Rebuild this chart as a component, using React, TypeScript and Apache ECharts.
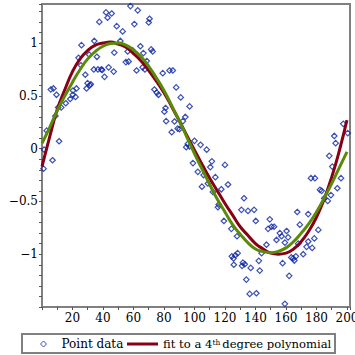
import React, { useEffect, useRef } from 'react';
import * as echarts from 'echarts';

// Scatter points
const pointX = [
  1.0, 1.4, 3.1, 5.8, 6.9, 7.5, 8.8, 9.5, 10.6, 11.2, 12.6, 15.6, 18.5, 20.2, 20.3, 22.0, 22.6, 24.0, 25.5, 25.9,
  28.4, 29.2, 29.9, 31.0, 31.3, 32.0, 34.0, 34.3, 36.0, 36.7, 37.6, 38.9, 39.5, 41.0, 42.0, 43.0, 43.7, 45.7, 47.0, 47.4,
  49.0, 51.4, 52.9, 55.0, 56.2, 56.8, 58.0, 59.5, 60.6, 62.0, 62.8, 64.5, 66.0, 66.5, 67.5, 68.7, 70.0, 70.5, 71.6, 72.6,
  73.7, 75.3, 76.4, 79.2, 80.3, 81.0, 81.4, 83.6, 85.1, 85.8, 86.9, 88.0, 89.0, 90.2, 91.0, 92.4, 94.0, 94.6, 95.6, 96.8,
  96.8, 99.0, 100.0, 102.2, 104.0, 104.9, 106.0, 108.0, 108.8, 110.4, 111.4, 112.1, 113.7, 115.4, 115.9, 117.6, 119.3, 120.0, 122.0, 124.2,
  124.5, 125.6, 125.8, 126.8, 127.9, 128.3, 130.8, 131.2, 131.8, 132.5, 133.0, 134.0, 135.1, 136.2, 136.9, 139.1, 140.2, 140.6, 142.2, 142.8,
  144.0, 147.2, 148.3, 149.4, 150.5, 152.2, 153.8, 156.0, 157.1, 157.8, 159.3, 159.3, 160.4, 161.4, 162.1, 163.5, 164.7, 165.5, 166.5, 167.4,
  168.0, 169.1, 171.3, 173.5, 174.6, 174.6, 176.4, 177.2, 178.6, 179.0, 181.2, 182.3, 183.4, 185.1, 187.4, 188.4, 189.5, 190.4, 191.7, 192.6,
  193.7, 196.1, 197.6, 200.5
];
const pointY = [
  -0.19, -0.01, 0.17, 0.56, -0.11, 0.57, 0.31, 0.51, 0.39, 0.07, 0.39, 0.43, 0.47, 0.51, 0.55, 0.49, 0.57, 0.86, 0.79, 0.98,
  0.70, 0.57, 0.62, 0.89, 0.60, 0.61, 0.75, 1.02, 0.87, 0.75, 1.20, 0.75, 0.745, 0.68, 1.29, 1.24, 0.77, 1.28, 0.73, 0.91,
  1.16, 1.02, 1.11, 0.82, 0.92, 0.825, 1.35, 0.93, 1.18, 0.74, 1.31, 0.97, 0.77, 0.905, 0.75, 0.83, 1.195, 1.23, 0.94, 0.92,
  0.56, 0.53, 0.51, 0.715, 0.35, 0.385, 0.26, 0.74, 0.156, 0.74, 0.257, 0.58, 0.19, 0.185, 0.485, 0.26, 0.30, 0.014, 0.045, 0.40,
  0.02, -0.137, 0.074, -0.22, 0.036, -0.36, -0.25, -0.01, -0.33, -0.175, -0.12, -0.41, -0.27, -0.555, -0.53, -0.385, -0.685, -0.154, -0.34, -0.76,
  -1.02, -1.04, -1.10, -1.01, -0.83, -0.99, -0.58, -1.11, -1.08, -0.47, -1.095, -1.24, -0.59, -1.376, -1.13, -0.58, -0.685, -1.37, -1.063, -1.155,
  -0.99, -0.91, -0.76, -0.67, -0.74, -0.74, -0.865, -0.80, -0.83, -1.085, -1.47, -0.89, -0.78, -0.84, -1.205, -1.03, -1.04, -1.06, -1.02, -0.60,
  -0.90, -0.72, -1.0, -0.93, -0.62, -0.88, -0.28, -0.94, -0.85, -0.28, -0.77, -0.39, -0.40, -0.47, -0.495, -0.068, -0.44, -0.17, 0.12, 0.052,
  -0.375, -0.28, 0.235, 0.147
];

// Curves (x every 5 units)
const curveX = [
  0, 5, 10, 15, 20, 25, 30, 35, 40, 45, 50, 55, 60, 65, 70, 75, 80, 85, 90, 95,
  100, 105, 110, 115, 120, 125, 130, 135, 140, 145, 150, 155, 160, 165, 170, 175, 180, 185, 190, 195, 200
];
const fitY = [
  -0.17, 0.11, 0.37, 0.56, 0.73, 0.85, 0.93, 0.98, 1.0, 1.01, 0.99, 0.96, 0.90, 0.83, 0.74, 0.64, 0.53, 0.40, 0.265, 0.125,
  -0.015, -0.15, -0.28, -0.40, -0.52, -0.63, -0.74, -0.82, -0.90, -0.95, -0.99, -1.0, -0.99, -0.95, -0.88, -0.78, -0.65, -0.48, -0.27, -0.02, 0.27
];
const sineY = [
  0.05, 0.20, 0.36, 0.50, 0.63, 0.75, 0.85, 0.92, 0.97, 0.995, 1.0, 0.98, 0.935, 0.87, 0.78, 0.67, 0.55, 0.41, 0.264, 0.11,
  -0.047, -0.194, -0.34, -0.48, -0.60, -0.72, -0.81, -0.89, -0.95, -0.975, -0.985, -0.973, -0.94, -0.88, -0.80, -0.71, -0.60, -0.47, -0.33, -0.18, -0.03
];

// Tick labels
const xTickLabels = [20, 40, 60, 80, 100, 120, 140, 160, 180, 200];
const yTickLabels = [-1, -0.5, 0, 0.5, 1];

const POINT_NAME = 'Point data';
const FIT_NAME = 'fit to a 4th degree polynomial';

const FONT = 'DejaVu Serif';
const BLUE = '#0a24a0';
const RED = '#880015';
const GREEN = '#5a8a0a';
const GRAY = '#808080';

const fmtNum = (v: number) => {
  const s = String(Math.abs(v));
  return v < 0 ? '\u2212' + s : s;
};

export default function App() {
  const ref = useRef<HTMLDivElement>(null);
  useEffect(() => {
    if (!ref.current) return;
    const chart = echarts.init(ref.current, undefined, { renderer: 'svg' });
    const points = pointX.map((x, i) => [x, pointY[i]]);
    const fit = curveX.map((x, i) => [x, fitY[i]]);
    const sine = curveX.map((x, i) => [x, sineY[i]]);
    const axisTextStyle = { fontFamily: FONT, fontSize: 12, color: '#000' };
    chart.setOption({
      animation: false,
      textStyle: { fontFamily: FONT },
      grid: {
        left: 42, right: 5, top: 4, bottom: 48,
        show: true, borderColor: GRAY, borderWidth: 2, backgroundColor: 'transparent',
        outerBoundsMode: 'none',
      },
      xAxis: {
        type: 'value', min: 0, max: 202, interval: 10,
        axisLine: { onZero: false, lineStyle: { color: GRAY, width: 2 } },
        axisTick: { show: true, inside: false, length: 3, lineStyle: { color: '#555', width: 1 } },
        splitLine: { show: false },
        axisLabel: {
          ...axisTextStyle, margin: 5, interval: 0,
          formatter: (v: number) => (xTickLabels.some((t) => Math.abs(t - v) < 1e-6) ? fmtNum(v) : ''),
        },
      },
      yAxis: {
        type: 'value', min: -1.5, max: 1.37, interval: 0.1,
        axisLine: { onZero: false, lineStyle: { color: GRAY, width: 2 } },
        axisTick: { show: true, inside: false, length: 3, lineStyle: { color: '#555', width: 1 } },
        splitLine: { show: false },
        axisLabel: {
          ...axisTextStyle, margin: 4, interval: 0,
          formatter: (v: number) => {
            const t = yTickLabels.find((t) => Math.abs(t - v) < 1e-6);
            return t === undefined ? '' : fmtNum(t);
          },
        },
      },
      legend: [
        {
          data: [{ name: POINT_NAME, icon: 'diamond' }],
          left: 40, top: 338, padding: 0,
          itemWidth: 6, itemHeight: 6, selectedMode: false, symbolKeepAspect: true,
          itemStyle: { color: 'rgba(0,0,0,0)', borderColor: BLUE, borderWidth: 1 },
          textStyle: { fontFamily: FONT, fontSize: 12, color: '#000', padding: [0, 0, 0, 10] },
        },
        {
          data: [{ name: FIT_NAME, icon: 'rect' }],
          left: 127, top: 338, padding: 0,
          itemWidth: 31, itemHeight: 3, selectedMode: false, symbolKeepAspect: false,
          itemStyle: { color: RED, borderWidth: 0 },
          formatter: () => 'fit to a 4{sup|th}degree polynomial',
          textStyle: {
            fontFamily: FONT, fontSize: 11.6, color: '#000',
            rich: { sup: { fontFamily: FONT, fontSize: 7.5, color: '#000', verticalAlign: 'top', lineHeight: 9, padding: [0, 2, 0, 0] } },
          },
        },
      ],
      graphic: [
        {
          type: 'rect',
          shape: { x: 22, y: 334, width: 313, height: 19 },
          style: { fill: 'none', stroke: GRAY, lineWidth: 2 },
          silent: true,
        },
      ],
      series: [
        {
          name: FIT_NAME, type: 'line', data: fit, smooth: true,
          symbol: 'none', showSymbol: false,
          lineStyle: { color: RED, width: 3 }, itemStyle: { color: RED },
        },
        {
          name: 'sine', type: 'line', data: sine, smooth: true,
          symbol: 'none', showSymbol: false,
          lineStyle: { color: GREEN, width: 3 }, itemStyle: { color: GREEN },
        },
        {
          name: POINT_NAME, type: 'scatter', data: points,
          symbol: 'diamond', symbolSize: 5.5,
          itemStyle: { color: 'rgba(0,0,0,0)', borderColor: BLUE, borderWidth: 1.2 },
        },
      ],
    });
    return () => chart.dispose();
  }, []);
  return <div ref={ref} style={{ position: 'absolute', left: 0, top: 0, width: 355, height: 355 }} />;
}
